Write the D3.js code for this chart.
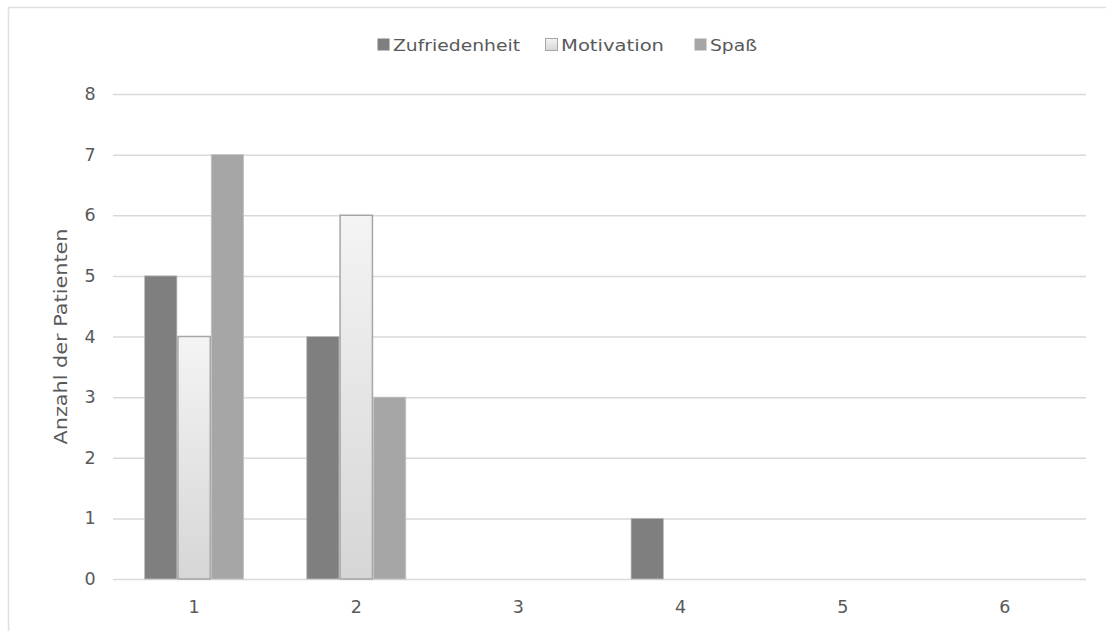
<!DOCTYPE html>
<html>
<head>
<meta charset="utf-8">
<script src="https://cdn.jsdelivr.net/npm/d3@7"></script>
<style>
  html, body { margin: 0; padding: 0; background: #fff; }
  svg { display: block; font-family: "DejaVu Sans", "Noto Sans", sans-serif; }
</style>
</head>
<body>
<svg id="chart" width="1106" height="631"></svg>
<script>
// Antworten je Bewertungsstufe (1–6)
const categories = ["1", "2", "3", "4", "5", "6"];
const seriesNames = ["Zufriedenheit", "Motivation", "Spaß"];
const zufriedenheit = [5, 4, 0, 1, 0, 0];
const motivation = [4, 6, 0, 0, 0, 0];
const spass = [7, 3, 0, 0, 0, 0];
const yTicks = [0, 1, 2, 3, 4, 5, 6, 7, 8];

const series = [zufriedenheit, motivation, spass];

const svg = d3.select("#chart");
const W = 1106, H = 631;
const plot = { left: 113, right: 1086, top: 94, bottom: 579 };

// Rahmen (oben und links)
svg.append("path")
  .attr("d", `M8.5,${H} L8.5,7.5 L${W},7.5`)
  .attr("fill", "none")
  .attr("stroke", "#e0e0e0")
  .attr("stroke-width", 1.5);

const defs = svg.append("defs");
const grad = defs.append("linearGradient")
  .attr("id", "motivGrad")
  .attr("x1", 0).attr("y1", 0).attr("x2", 0).attr("y2", 1);
grad.append("stop").attr("offset", "0%").attr("stop-color", "#f4f4f4");
grad.append("stop").attr("offset", "100%").attr("stop-color", "#d6d6d6");

const x = d3.scaleBand()
  .domain(categories)
  .range([plot.left, plot.right])
  .paddingInner(0.383)
  .paddingOuter(0.1915);

const xInner = d3.scaleBand()
  .domain(seriesNames)
  .range([0, x.bandwidth()]);

const y = d3.scaleLinear()
  .domain([0, 8])
  .range([plot.bottom, plot.top]);

// Gitterlinien
const yAxis = d3.axisLeft(y)
  .tickValues(yTicks)
  .tickSize(-(plot.right - plot.left))
  .tickPadding(28)
  .tickFormat(d3.format("d"));

const gy = svg.append("g")
  .attr("transform", `translate(${plot.left},0)`)
  .call(yAxis);
gy.select(".domain").remove();
gy.selectAll(".tick line").attr("stroke", "#d9d9d9").attr("stroke-width", 1.5);
gy.selectAll(".tick text")
  .attr("fill", "#595959")
  .attr("font-family", "DejaVu Sans, sans-serif")
  .attr("font-size", 17.5)
  .attr("text-anchor", "middle")
  .attr("dx", 5);

// Balken
const fills = ["#7f7f7f", "url(#motivGrad)", "#a6a6a6"];
const strokes = ["#bdbdbd", "#a6a6a6", "#c4c4c4"];

const groups = svg.append("g").selectAll("g")
  .data(categories)
  .join("g")
  .attr("transform", d => `translate(${x(d)},0)`);

groups.selectAll("rect")
  .data((d, i) => seriesNames.map((name, s) => ({ name, s, value: series[s][i] })))
  .join("rect")
  .filter(d => d.value > 0)
  .attr("x", d => xInner(d.name) + 0.5)
  .attr("y", d => y(d.value))
  .attr("width", xInner.bandwidth() - 1)
  .attr("height", d => y(0) - y(d.value))
  .attr("fill", d => fills[d.s])
  .attr("stroke", d => strokes[d.s])
  .attr("stroke-width", d => d.s === 1 ? 1.5 : 0.8);

// Kategorienachse
const xAxis = d3.axisBottom(x).tickSize(0).tickPadding(22);
const gx = svg.append("g")
  .attr("transform", `translate(0,${plot.bottom})`)
  .call(xAxis);
gx.select(".domain").remove();
gx.selectAll(".tick text")
  .attr("fill", "#595959")
  .attr("font-family", "DejaVu Sans, sans-serif")
  .attr("font-size", 17.5);

// Achsentitel
svg.append("text")
  .attr("transform", `translate(67,${(plot.top + plot.bottom) / 2}) rotate(-90)`)
  .attr("text-anchor", "middle")
  .attr("fill", "#595959")
  .attr("font-size", 18)
  .attr("textLength", 216)
  .attr("lengthAdjust", "spacingAndGlyphs")
  .text("Anzahl der Patienten");

// Legende
const legendItems = [
  { name: "Zufriedenheit", x: 377, w: 127 },
  { name: "Motivation", x: 545, w: 103 },
  { name: "Spaß", x: 694, w: 47 }
];
const legend = svg.append("g");
const lg = legend.selectAll("g")
  .data(legendItems)
  .join("g")
  .attr("transform", d => `translate(${d.x},38)`);
lg.append("rect")
  .attr("x", 0.5).attr("y", 0.5)
  .attr("width", 12).attr("height", 12)
  .attr("fill", (d, i) => fills[i])
  .attr("stroke", (d, i) => i === 1 ? "#a6a6a6" : "none")
  .attr("stroke-width", 1);
lg.append("text")
  .attr("x", 16).attr("y", 12.5)
  .attr("fill", "#595959")
  .attr("font-size", 16)
  .attr("textLength", d => d.w)
  .attr("lengthAdjust", "spacingAndGlyphs")
  .text(d => d.name);
</script>
</body>
</html>
